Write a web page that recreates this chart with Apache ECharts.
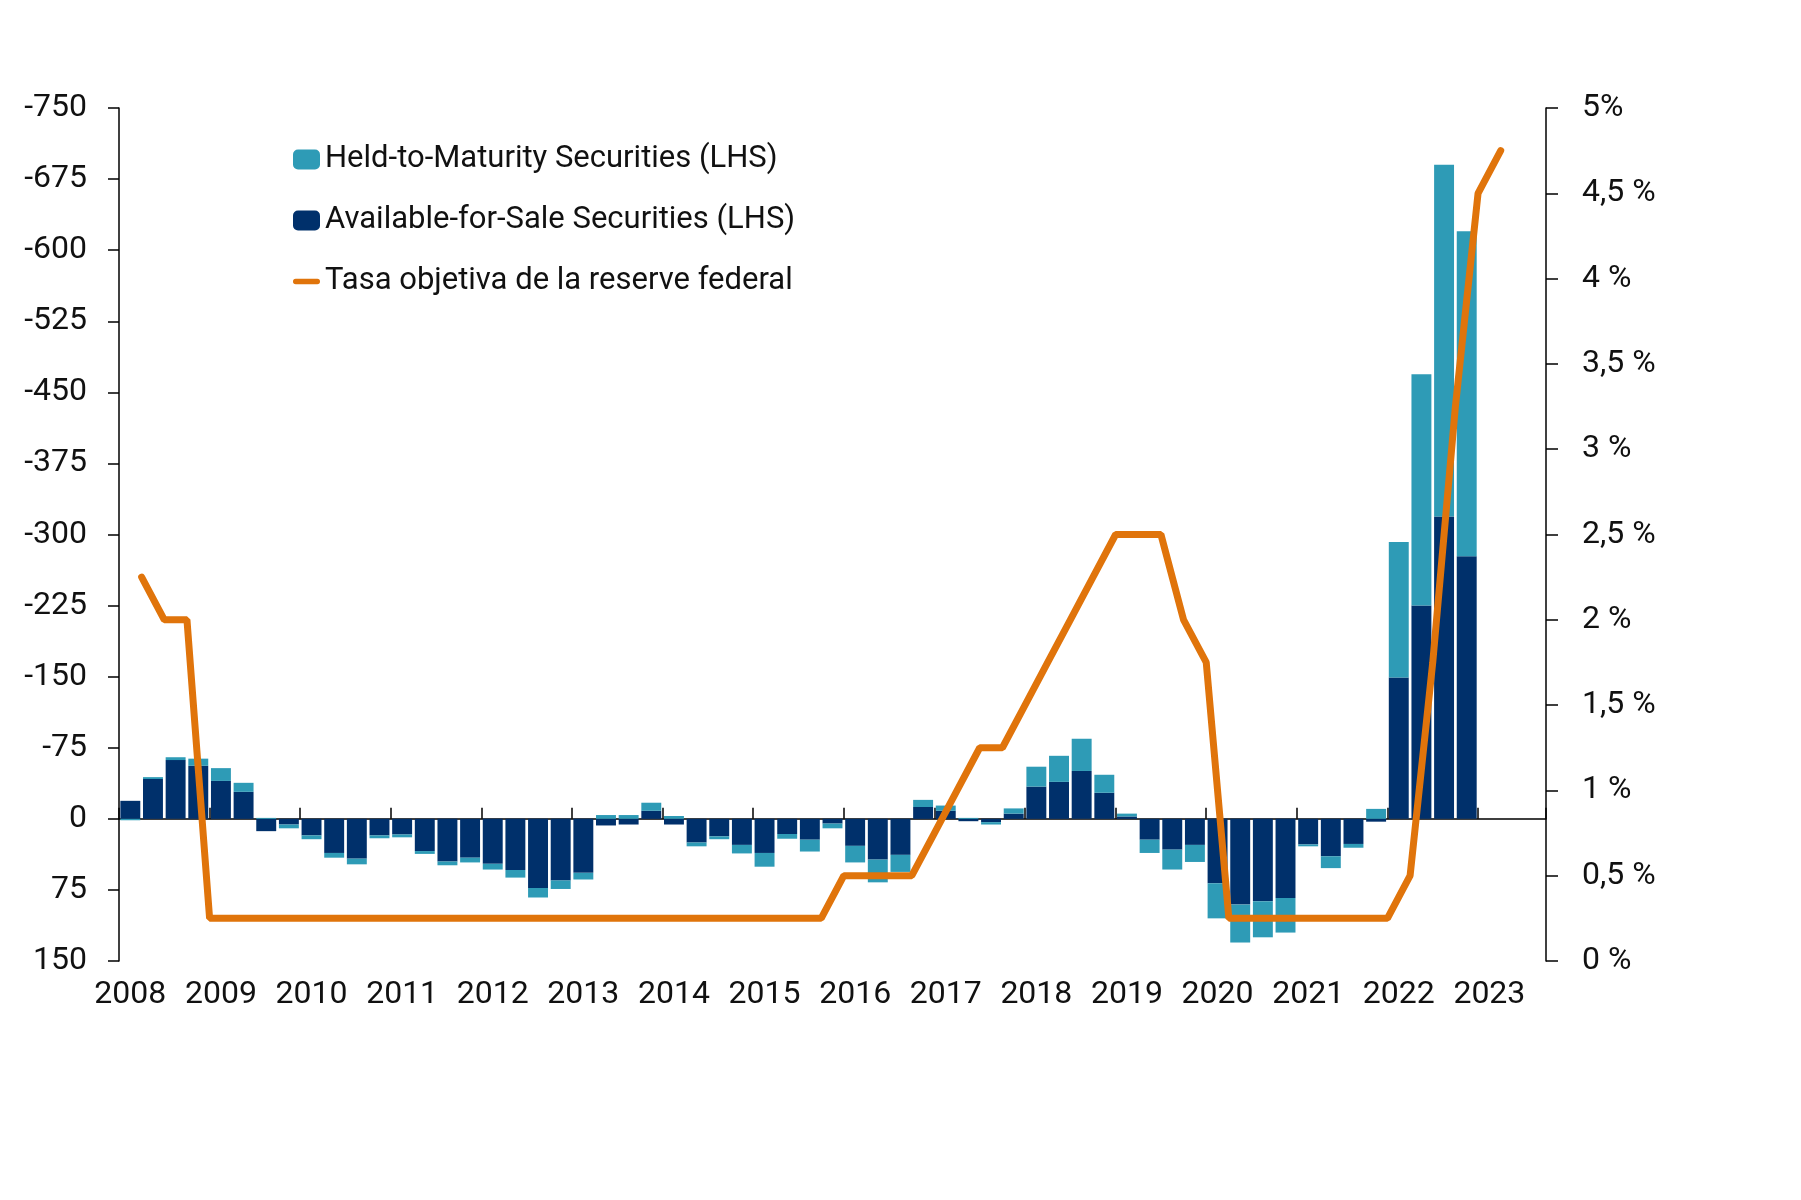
<!DOCTYPE html>
<html>
<head>
<meta charset="utf-8">
<script src="https://cdn.jsdelivr.net/npm/echarts@6/dist/echarts.min.js"></script>
<style>
html,body{margin:0;padding:0;background:#fff;}
#chart{width:1801px;height:1200px;}
</style>
</head>
<body>
<div id="chart"></div>
<script>
// quarters 2008 Q1 .. 2023 Q3 (bars stop at 2022 Q4, rate line runs into 2023)
var years = [2008,2009,2010,2011,2012,2013,2014,2015,2016,2017,2018,2019,2020,2021,2022,2023];
var quarters = [];
years.forEach(function(y){ ['Q1','Q2','Q3','Q4'].forEach(function(q){ quarters.push(y + ' ' + q); }); });
quarters = quarters.slice(0, 63);

// Available-for-Sale (LHS), one per quarter 2008 Q1 .. 2022 Q4
var afs = [-19,-42,-62,-56,-40,-28.5,13,6,17.5,36,42,17.5,16.5,34,45,41,
           47.5,54,73,65,57,7,6,-8.5,6,25,18.5,27.5,36,16,22,5,
           28.5,43,38,-12.5,-8.5,2.5,3.5,-5.5,-34,-39,-50.5,-27.5,-2.5,22,32.5,27.5,
           68,90.5,87,83.5,27,39.5,26.5,3,-149,-225,-319,-277];
// Held-to-Maturity (LHS)
var htm = [1.5,-2,-3,-7.5,-13.5,-9.5,-1,4,4,5,6,3,3,3,4,5,
           6,8,10,9,7,-4,-4,-8.5,-3,4,3,9,14.5,5,12.5,5,
           17.5,24,18,-7.5,-5.5,-1,2.5,-5.5,-21,-27.5,-34,-19,-3,14,21,18,
           37,40,38,36.5,2,12.5,4,-10.5,-143,-244,-371,-343];
// fed target rate at end of each quarter, 2008 Q1 .. 2023 Q1 (RHS, %)
var fedRate = [2.25,2,2,
  0.25,0.25,0.25,0.25,0.25,0.25,0.25,0.25,0.25,0.25,0.25,0.25,0.25,0.25,
  0.25,0.25,0.25,0.25,0.25,0.25,0.25,0.25,0.25,0.25,0.25,0.25,0.25,0.25,
  0.5,0.5,0.5,0.5,
  0.75,1,1.25,1.25,
  1.5,1.75,2,2.25,2.5,2.5,2.5,
  2,1.75,0.25,
  0.25,0.25,0.25,0.25,0.25,0.25,0.25,
  0.5,1.75,3.25,4.5,4.75];

var names = ['Held-to-Maturity Securities (LHS)','Available-for-Sale Securities (LHS)','Tasa objetiva de la reserve federal'];

var NAVY = '#00306B', TEAL = '#2E9BB6', ORANGE = '#E0740B';

var chart = echarts.init(document.getElementById('chart'));
var font = 'Roboto';

var option = {
  animation:false,
  backgroundColor:'#fff',
  textStyle:{fontFamily:font},
  grid:{left:119,right:255,top:108,bottom:239},
  legend:{
    data:[
      {name:names[0]},
      {name:names[1]},
      {name:names[2],icon:'path://M3,0 L27,0 A3,3 0 0 1 27,6 L3,6 A3,3 0 0 1 3,0 Z'}
    ],
    orient:'vertical',
    left:293,
    top:144,
    padding:0,
    itemWidth:27,
    itemHeight:20,
    itemGap:30,
    textStyle:{fontFamily:font,fontSize:31,color:'#111',lineHeight:31}
  },
  xAxis:[
    {
      type:'category',data:quarters,boundaryGap:true,
      axisLine:{show:true,onZero:true,onZeroAxisIndex:0,lineStyle:{color:'#000',width:1.5}},
      axisTick:{show:true,inside:true,interval:3,length:11,lineStyle:{color:'#000',width:1.5}},
      axisLabel:{show:false},
      splitLine:{show:false}
    },
    {
      type:'category',data:quarters,position:'bottom',boundaryGap:true,
      axisLine:{show:false,onZero:false},
      axisTick:{show:false},
      axisLabel:{show:true,interval:3,margin:18,fontSize:32,color:'#111',fontFamily:font,
        formatter:function(v){return v.slice(0,4);}},
      splitLine:{show:false}
    },
    {
      type:'value',min:0,max:63,show:false
    }
  ],
  yAxis:[
    {
      type:'value',inverse:true,min:-750,max:150,interval:75,position:'left',
      axisLine:{show:true,lineStyle:{color:'#000',width:1.5}},
      axisTick:{show:true,inside:false,length:11,lineStyle:{color:'#000',width:1.5}},
      axisLabel:{margin:32,fontSize:32,color:'#111',fontFamily:font},
      splitLine:{show:false}
    },
    {
      type:'value',min:0,max:5,interval:0.5,position:'right',
      axisLine:{show:true,lineStyle:{color:'#000',width:1.5}},
      axisTick:{show:true,inside:false,length:12,lineStyle:{color:'#000',width:1.5}},
      axisLabel:{margin:36,fontSize:32,color:'#111',fontFamily:font,padding:[8,0,0,0],
        formatter:function(v){ if(v===5) return '5%'; return String(v).replace('.',',') + ' %'; }},
      splitLine:{show:false}
    }
  ],
  series:[
    {
      name:names[1],type:'bar',stack:'sec',xAxisIndex:0,yAxisIndex:0,
      data:afs,barCategoryGap:'12%',itemStyle:{color:NAVY}
    },
    {
      name:names[0],type:'bar',stack:'sec',xAxisIndex:0,yAxisIndex:0,
      data:htm,barCategoryGap:'12%',itemStyle:{color:TEAL}
    },
    {
      name:names[2],type:'line',xAxisIndex:2,yAxisIndex:1,
      data:fedRate.map(function(v,i){return [i+1,v];}),
      symbol:'none',z:5,
      lineStyle:{color:ORANGE,width:7,cap:'round'},
      itemStyle:{color:ORANGE}
    }
  ]
};
chart.setOption(option);
</script>
</body>
</html>
